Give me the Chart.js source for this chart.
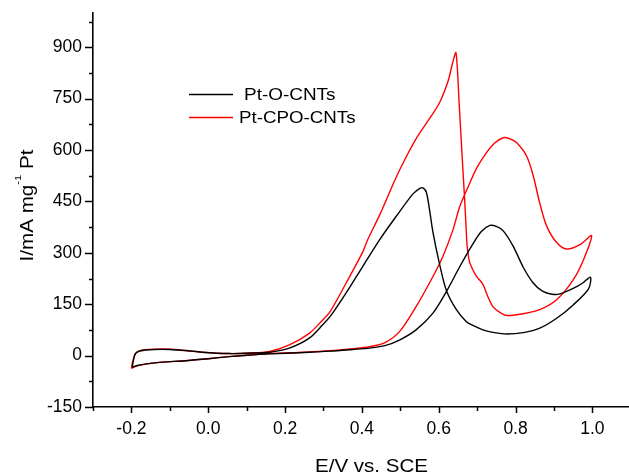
<!DOCTYPE html>
<html>
<head>
<meta charset="utf-8">
<script src="https://cdn.jsdelivr.net/npm/chart.js@4/dist/chart.umd.min.js"></script>
<style>
html,body{margin:0;padding:0;background:#fff;overflow:hidden;width:629px;height:475px}
#wrap{width:650px;height:475px;position:relative}
</style>
</head>
<body>
<div id="wrap"><canvas id="c" width="650" height="475"></canvas></div>
<script>
// ---- tick values ----
const xMajorTicks = [-0.2, 0.0, 0.2, 0.4, 0.6, 0.8, 1.0];
const xMinorTicks = [-0.3, -0.1, 0.1, 0.3, 0.5, 0.7, 0.9, 1.1];
const yMajorTicks = [-150, 0, 150, 300, 450, 600, 750, 900];
const yMinorTicks = [-75, 75, 225, 375, 525, 675, 825, 975];

// ---- series names ----
const seriesNames = ['Pt-O-CNTs', 'Pt-CPO-CNTs'];
const xTitle = 'E/V vs. SCE';
const yTitleParts = ['I/mA mg', '-1', ' Pt'];

// ---- Pt-O-CNTs (forward scan then reverse scan) ----
const oCntsE = [
  -0.198,-0.185,-0.16,-0.12,-0.06,0.0,0.054,0.10,0.16,0.25,0.316,0.376,0.42,0.46,0.499,0.541,0.585,0.62,0.655,0.689,0.711,0.733,0.75,0.768,0.794,0.82,0.846,0.87,0.895,0.916,0.95,0.975,0.995,
  0.99,0.95,0.907,0.863,0.82,0.777,0.745,0.715,0.689,0.672,0.646,0.62,0.602,0.585,0.576,0.568,0.56,0.552,0.533,0.489,0.446,0.402,0.359,0.32,0.298,0.263,0.211,0.16,0.10,0.054,-0.016,-0.06,-0.1,-0.14,-0.165,-0.18,-0.19,-0.195,-0.198
];
const oCntsI = [
  -34,-29,-24,-19,-15,-9,-3,1,5,9,13,18,22,29,46,75,124,187,260,326,362,380,377,364,319,258,212,188,179,180,196,212,229,
  195,148,109,80,67,63,67,75,88,99,134,190,268,360,426,476,489,489,472,406,338,260,183,118,90,51,22,10,7,6,10,15,18,18,16,13,5,-15,-34
];

// ---- Pt-CPO-CNTs (forward scan then reverse scan) ----
const cpoCntsE = [
  -0.2,-0.185,-0.16,-0.12,-0.06,0.0,0.054,0.10,0.16,0.25,0.316,0.376,0.42,0.46,0.498,0.541,0.585,0.611,0.637,0.655,0.681,0.70,0.724,0.745,0.768,0.785,0.803,0.829,0.846,0.863,0.881,0.907,0.933,0.968,0.998,
  0.977,0.95,0.907,0.863,0.82,0.777,0.759,0.741,0.728,0.715,0.698,0.689,0.68,0.674,0.671,0.667,0.66,0.653,0.645,0.637,0.624,0.602,0.575,0.546,0.52,0.489,0.446,0.415,0.402,0.359,0.316,0.298,0.263,0.211,0.16,0.10,0.054,-0.016,-0.06,-0.1,-0.14,-0.165,-0.18,-0.19,-0.196,-0.2
];
const cpoCntsI = [
  -37,-30,-24,-19,-15,-9,-3,1,6,10,14,20,26,38,70,143,231,290,367,436,504,550,592,620,636,633,621,582,525,445,378,330,311,324,350,
  280,221,163,134,122,117,126,143,172,208,232,250,275,320,380,465,600,740,884,858,800,738,690,642,590,520,410,338,302,212,126,104,65,31,12,7,6,10,15,19,19,17,13,5,-15,-37
];

const seriesColors = ['#000000', '#ff0000'];

function toPoints(es, is) { return es.map((e, k) => ({ x: e, y: is[k] })); }

function stretchText(ctx, text, x, y, font, width) {
  ctx.save();
  ctx.font = font;
  const w = ctx.measureText(text).width;
  ctx.translate(x, y);
  ctx.scale(width / w, 1);
  ctx.fillText(text, 0, 0);
  ctx.restore();
}

const decorPlugin = {
  id: 'decor',
  afterDraw(chart) {
    const ctx = chart.ctx;
    const xs = chart.scales.x, ys = chart.scales.y;
    const area = chart.chartArea;
    ctx.save();
    ctx.strokeStyle = '#000';
    ctx.lineWidth = 1.5;
    // x ticks
    ctx.beginPath();
    xMajorTicks.forEach(v => { const p = Math.round(xs.getPixelForValue(v)) + 0.5; ctx.moveTo(p, area.bottom); ctx.lineTo(p, area.bottom + 6); });
    xMinorTicks.forEach(v => { const p = Math.round(xs.getPixelForValue(v)) + 0.5; ctx.moveTo(p, area.bottom); ctx.lineTo(p, area.bottom + 4); });
    // y ticks
    yMajorTicks.forEach(v => { const p = Math.round(ys.getPixelForValue(v)) + 0.5; ctx.moveTo(area.left, p); ctx.lineTo(area.left - 8, p); });
    yMinorTicks.forEach(v => { const p = Math.round(ys.getPixelForValue(v)) + 0.5; ctx.moveTo(area.left, p); ctx.lineTo(area.left - 4, p); });
    ctx.stroke();

    ctx.fillStyle = '#000';
    ctx.textBaseline = 'alphabetic';
    ctx.textAlign = 'left';
    // x title
    stretchText(ctx, xTitle, 315, 471.5, '18.5px "Liberation Sans"', 113);

    // y title (rotated, with superscript)
    ctx.save();
    ctx.translate(33, 261.5);
    ctx.rotate(-Math.PI / 2);
    const mainFont = '17.5px "Liberation Sans"', supFont = '9.5px "Liberation Sans"';
    ctx.font = mainFont; const w0 = ctx.measureText(yTitleParts[0]).width;
    ctx.font = supFont; const w1 = ctx.measureText(yTitleParts[1]).width;
    ctx.font = mainFont; const w2 = ctx.measureText(yTitleParts[2]).width;
    const sx = 112 / (w0 + w1 + w2);
    ctx.scale(sx, 1);
    ctx.font = mainFont; ctx.fillText(yTitleParts[0], 0, 0);
    ctx.font = supFont; ctx.fillText(yTitleParts[1], w0, -12.5);
    ctx.font = mainFont; ctx.fillText(yTitleParts[2], w0 + w1, 0);
    ctx.restore();

    // legend
    const rows = [
      { y: 94.5, tx: 244, base: 100, w: 91.5 },
      { y: 117.5, tx: 239, base: 123.3, w: 116.5 }
    ];
    rows.forEach((r, k) => {
      ctx.strokeStyle = seriesColors[k];
      ctx.lineWidth = 1.5;
      ctx.beginPath();
      ctx.moveTo(189, r.y); ctx.lineTo(233, r.y);
      ctx.stroke();
      ctx.fillStyle = '#000';
      stretchText(ctx, seriesNames[k], r.tx, r.base, '16.5px "Liberation Sans"', r.w);
    });
    ctx.restore();
  }
};

const tickFont = { family: 'Liberation Sans', size: 17.5 };
const hiddenTick = 'rgba(0,0,0,0)';

new Chart(document.getElementById('c'), {
  type: 'scatter',
  data: {
    datasets: [
      { label: seriesNames[0], data: toPoints(oCntsE, oCntsI), showLine: true, borderColor: seriesColors[0], backgroundColor: seriesColors[0], borderWidth: 1.4, pointRadius: 0, tension: 0.3, fill: false },
      { label: seriesNames[1], data: toPoints(cpoCntsE, cpoCntsI), showLine: true, borderColor: seriesColors[1], backgroundColor: seriesColors[1], borderWidth: 1.4, pointRadius: 0, tension: 0.3, fill: false }
    ]
  },
  options: {
    responsive: false,
    animation: false,
    devicePixelRatio: 1,
    layout: { autoPadding: false, padding: { top: 13, left: 0, right: 0, bottom: 0 } },
    plugins: { legend: { display: false }, tooltip: { enabled: false } },
    scales: {
      x: {
        type: 'linear', position: 'bottom', min: -0.3, max: 1.15,
        grid: { display: true, drawOnChartArea: false, drawTicks: true, tickLength: 12, tickColor: hiddenTick },
        border: { display: true, color: '#000', width: 1.6 },
        ticks: { font: tickFont, color: '#000', padding: 0, autoSkip: false, maxRotation: 0, callback: v => Number(v).toFixed(1) },
        afterBuildTicks: s => { s.ticks = xMajorTicks.map(v => ({ value: v })); },
        afterFit: s => { s.height = 68; }
      },
      y: {
        type: 'linear', position: 'left', min: -150, max: 1000,
        grid: { display: true, drawOnChartArea: false, drawTicks: true, tickLength: 11, tickColor: hiddenTick },
        border: { display: true, color: '#000', width: 1.6 },
        ticks: { font: tickFont, color: '#000', padding: 0, autoSkip: false, callback: v => String(v) },
        afterBuildTicks: s => { s.ticks = yMajorTicks.map(v => ({ value: v })); },
        afterFit: s => { s.width = 93; }
      }
    }
  },
  plugins: [decorPlugin]
});
</script>
</body>
</html>
